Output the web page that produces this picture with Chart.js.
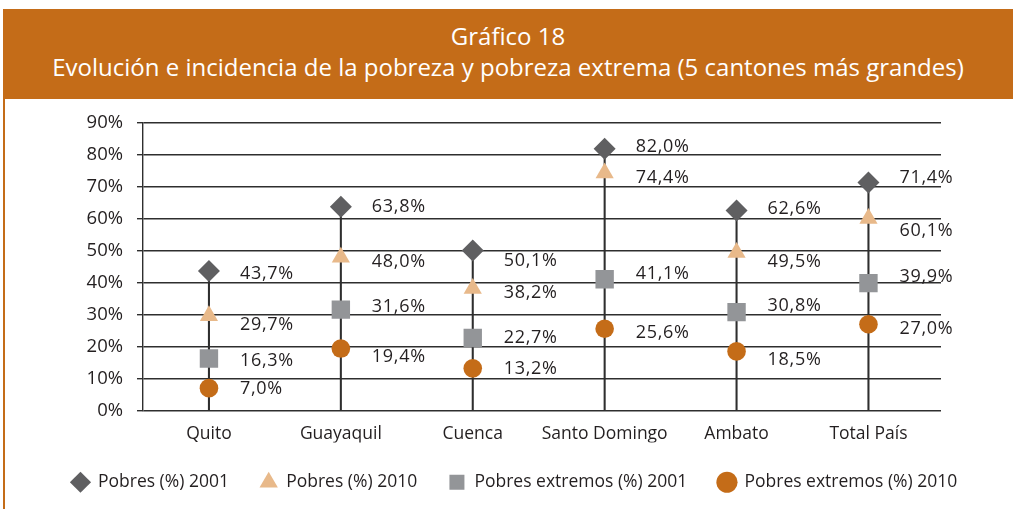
<!DOCTYPE html>
<html>
<head>
<meta charset="utf-8">
<script src="https://cdn.jsdelivr.net/npm/chart.js@4"></script>
<style>
  html, body { margin: 0; padding: 0; background: #fff; }
  body { width: 1013px; height: 509px; position: relative; overflow: hidden; font-family: "Open Sans", sans-serif; }
  #head { position: absolute; left: 3px; top: 9px; width: 1010px; height: 90px; background: #c46c18; color: #fff;
          text-align: center; font-size: 24px; line-height: 31px; padding-top: 11px; box-sizing: border-box; }
  #edge { position: absolute; left: 3px; top: 98px; width: 2px; height: 411px; background: #c46c18; }
  #wrap { position: absolute; left: 0; top: 98px; width: 1013px; height: 411px; }
</style>
</head>
<body>
<div id="head">Gráfico 18<br>Evolución e incidencia de la pobreza y pobreza extrema (5 cantones más grandes)</div>
<div id="edge"></div>
<div id="wrap"><canvas id="c"></canvas></div>
<script>
// ── data ─────────────────────────────────────────────────────────────
const cantones        = ['Quito', 'Guayaquil', 'Cuenca', 'Santo Domingo', 'Ambato', 'Total País'];
const pobres2001      = [43.7, 63.8, 50.1, 82.0, 62.6, 71.4];
const pobres2010      = [29.7, 48.0, 38.2, 74.4, 49.5, 60.1];
const extremos2001    = [16.3, 31.6, 22.7, 41.1, 30.8, 39.9];
const extremos2010    = [7.0, 19.4, 13.2, 25.6, 18.5, 27.0];
const yTicks          = [0, 10, 20, 30, 40, 50, 60, 70, 80, 90];

// small vertical nudges (px) for the value labels, as placed in the original
const labelNudge = [
  [3, 0, 10, -2, -2, -5],
  [9, 5, 4, 5, 9, 12],
  [2, -3, 0, -5, -6, -6],
  [1, 8, 1, 4, 8, 5]
];

const C = { dia: '#5f5f61', tri: '#e8b98a', sq: '#939598', dot: '#c46c18', ink: '#231f20', grid: '#2e2e2e' };
const FAMILY = '"Open Sans", sans-serif';
const TEXT = { family: FAMILY, size: 17.5 };
const NUM  = { family: FAMILY, size: 18.5 };

const pts = arr => arr.map((v, i) => ({ x: i, y: v }));
const pointDs = (label, data, color, style, radius, order) => ({
  type: 'line', label, data: pts(data), showLine: false, order,
  pointStyle: style, pointRadius: radius, pointHoverRadius: radius,
  pointBackgroundColor: color, pointBorderColor: color, pointBorderWidth: 0,
  backgroundColor: color, borderColor: color, borderWidth: 0
});

const valueLabels = {
  id: 'valueLabels',
  afterDatasetsDraw(chart) {
    const ctx = chart.ctx;
    ctx.save();
    ctx.font = `18px ${FAMILY}`;
    ctx.letterSpacing = '0.7px';
    ctx.fillStyle = C.ink;
    ctx.textAlign = 'left';
    ctx.textBaseline = 'middle';
    chart.data.datasets.forEach((ds, di) => {
      if (ds.type !== 'line') return;
      const meta = chart.getDatasetMeta(di);
      meta.data.forEach((p, j) => {
        const txt = ds.data[j].y.toFixed(1).replace('.', ',') + '%';
        ctx.fillText(txt, p.x + 31, p.y + labelNudge[di][j]);
      });
    });
    ctx.restore();
  }
};

new Chart(document.getElementById('c'), {
  data: {
    datasets: [
      pointDs('Pobres (%) 2001', pobres2001, C.dia, 'rectRot', 11, 1),
      pointDs('Pobres (%) 2010', pobres2010, C.tri, 'triangle', 10.5, 2),
      pointDs('Pobres extremos (%) 2001', extremos2001, C.sq, 'rect', 13, 3),
      pointDs('Pobres extremos (%) 2010', extremos2010, C.dot, 'circle', 9.3, 4),
      { type: 'bar', label: 'drop', order: 10, data: pobres2001.map((v, i) => ({ x: i, y: [0, v] })),
        backgroundColor: C.grid, barThickness: 1.4 }
    ]
  },
  options: {
    responsive: true, maintainAspectRatio: false, animation: false,
    layout: { padding: { top: 24, right: 0, left: 16, bottom: 8 } },
    plugins: {
      tooltip: { enabled: false },
      legend: {
        position: 'bottom',
        labels: {
          color: C.ink, font: TEXT, usePointStyle: true, boxHeight: 15, padding: 31,
          filter: item => item.text !== 'drop'
        }
      }
    },
    scales: {
      x: {
        type: 'linear', min: -0.5, max: 5.55, offset: false,
        afterBuildTicks: s => { s.ticks = cantones.map((_, i) => ({ value: i })); },
        afterFit: s => { s.height = 32; },
        ticks: { color: C.ink, font: TEXT, padding: 13, maxRotation: 0, autoSkip: false,
                 callback: v => cantones[v] },
        grid: { display: false, drawTicks: false, offset: false },
        border: { display: false }
      },
      y: {
        min: 0, max: 90,
        afterBuildTicks: s => { s.ticks = yTicks.map(v => ({ value: v })); },
        afterFit: s => { s.width = 127; },
        ticks: { color: C.ink, font: NUM, padding: 14, callback: v => v + '%' },
        grid: { color: C.grid, lineWidth: 1.4, tickLength: 6 },
        border: { color: C.grid, width: 1.4 }
      },
      yRight: {
        position: 'right', min: 0, max: 90,
        afterFit: s => { s.width = 72; },
        ticks: { display: false },
        grid: { display: false, drawTicks: false },
        border: { display: false }
      }
    }
  },
  plugins: [valueLabels]
});
</script>
</body>
</html>
